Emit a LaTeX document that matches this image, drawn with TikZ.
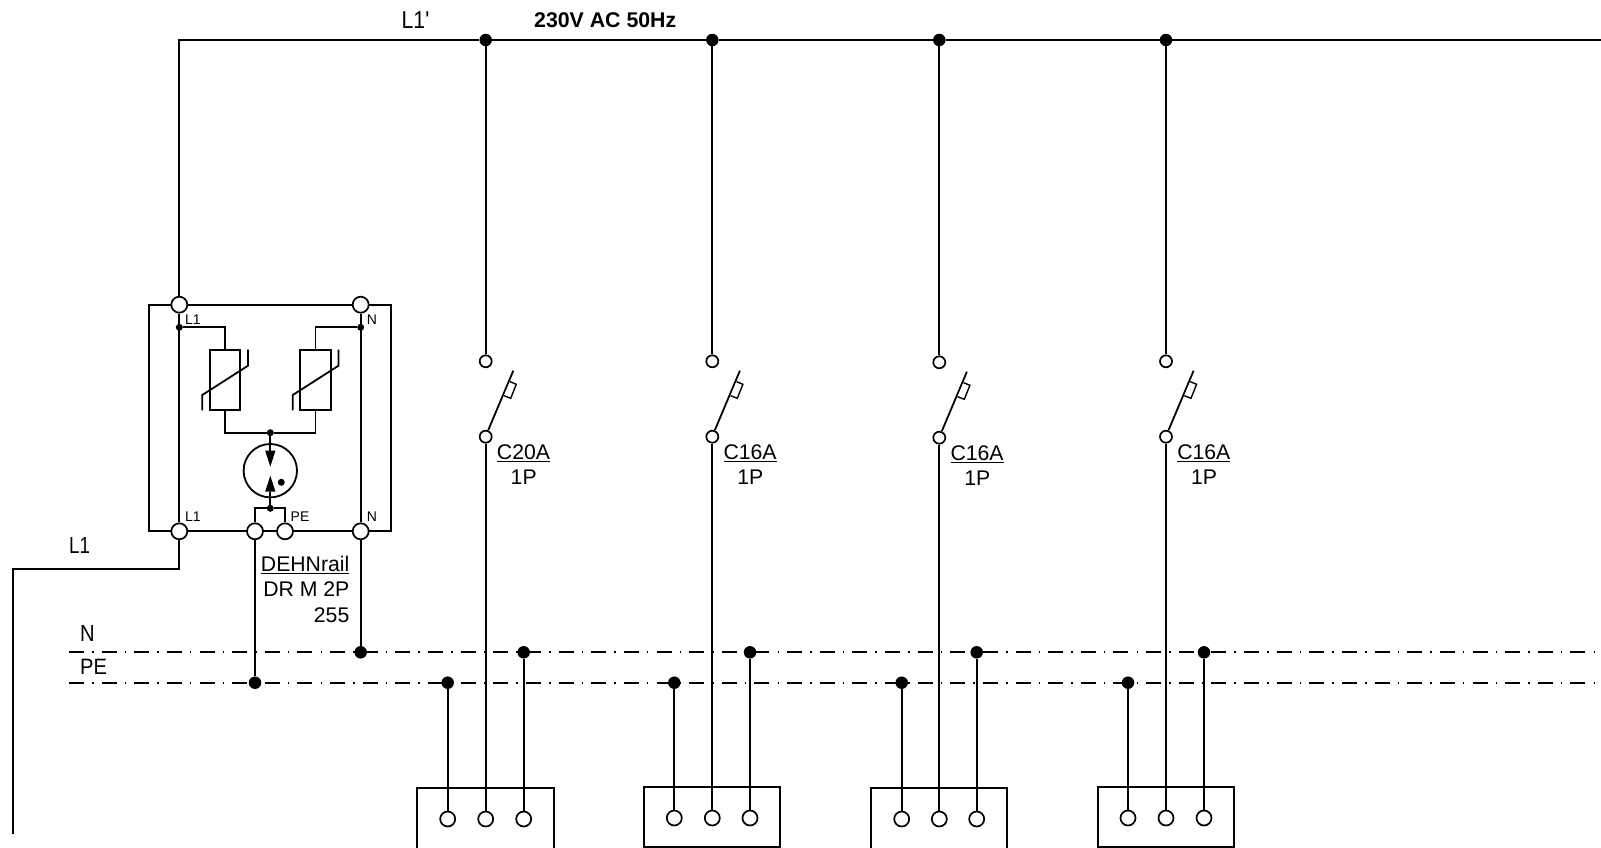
\documentclass[tikz,border=0pt]{standalone}
\usepackage{fontspec}
\usepackage{graphicx}
\setmainfont{Liberation Sans}
\newfontfamily\plainf[Ligatures=ResetAll]{Liberation Sans}
\newcommand{\bigtxt}{\fontsize{21.2}{24}\selectfont}
\newcommand{\boldtxt}{\fontsize{21.3}{24}\selectfont\bfseries}
\newcommand{\smalltxt}{\fontsize{14}{16}\selectfont}
\tikzset{
  wire/.style={line width=2pt,line cap=butt,line join=miter},
  thin wire/.style={line width=1.5pt},
  term/.style={circle,draw,line width=1.7pt,fill=white,inner sep=0pt,minimum size=16pt},
  smallterm/.style={circle,draw,line width=1.7pt,fill=white,inner sep=0pt,minimum size=12pt},
  sockterm/.style={circle,draw,line width=1.7pt,fill=white,inner sep=0pt,minimum size=15pt},
  jdot/.style={circle,fill=black,inner sep=0pt,minimum size=12.5pt},
  smalldot/.style={circle,fill=black,inner sep=0pt,minimum size=7pt},
  varistor/.style={rectangle,draw,line width=1.8pt,fill=white,inner sep=0pt,minimum width=30.4pt,minimum height=60.6pt},
  rail/.style={line width=2pt,dash pattern=on 15pt off 8.07pt on 1.5pt off 8.07pt},
  big/.style={font=\bigtxt,inner sep=0pt},
  tiny/.style={font=\smalltxt,inner sep=0pt},
}
\begin{document}
\begin{tikzpicture}[x=1pt,y=-1pt]
\useasboundingbox (0,0) rectangle (1601,848);
% rails
\coordinate (nA) at (69,652.3); \coordinate (nB) at (1596,652.3);
\coordinate (pA) at (69,682.7); \coordinate (pB) at (1596,682.7);
\draw[rail] (nA) -- (nB);
\draw[rail] (pA) -- (pB);
% device housing
\node[draw,line width=1.9pt,rectangle,inner sep=0pt,minimum width=242pt,minimum height=226.6pt] (housing) at (270,418) {};
\node[term] (tTL) at (179.3,304.7) {};
\node[term] (tTN) at (360.7,304.7) {};
\node[term] (tBL) at (179.3,531.3) {};
\node[term] (tBN) at (360.7,531.3) {};
\node[term] (tBE) at (255,531.3) {};
\node[term] (tBP) at (285,531.3) {};
\draw[wire] (tTL) -- (tBL);
\draw[wire] (tTN) -- (tBN);
\node[smalldot] (dL) at (179.3,327.3) {};
\node[smalldot] (dN) at (360.7,327.3) {};
% varistors
\node[varistor] (v1) at (225,380) {};
\node[varistor] (v2) at (315.5,380) {};
\node[smalldot] (dJ) at (270.3,432.7) {};
\draw[wire,line width=1.8pt] (dL) -| (v1.north);
\draw[wire,line width=1.8pt] (dN) -| (v2.north);
\draw[wire,line width=1.8pt] (v1.south) |- (dJ);
\draw[wire,line width=1.8pt] (v2.south) |- (dJ);
\foreach \v in {v1,v2}{
  \draw[line width=1.8pt] ([xshift=-22.7pt]\v.center) ++(0,30.3) -- ++(0,-15.3) -- ++(45.7,-29.3) -- ++(0,-16);
}
% gas arrester
\node[circle,draw,line width=1.8pt,inner sep=0pt,minimum size=53.4pt] (gas) at (270.3,470.7) {};
\node[smalldot] (dG) at (270.3,508.3) {};
\coordinate (aD) at (270.3,451); \coordinate (aU) at (270.3,491.7);
\draw[wire,line width=1.8pt] (dJ) -- (aD);
\draw[wire,line width=1.8pt] (dG) -- (aU);
\fill (aD) ++(-5.2,-0.5) -- ++(10.4,0) -- (270.3,466.7) -- cycle;
\fill (aU) ++(-5.2,0) -- ++(10.4,0) -- (270.3,475.7) -- cycle;
\node[circle,fill=black,inner sep=0pt,minimum size=7pt] (gasdot) at (281.3,482.3) {};
\draw[wire,line width=1.8pt] (tBE) |- (dG);
\draw[wire,line width=1.8pt] (tBP) |- (dG);
% housing labels
\node[tiny,anchor=base west] (lbA) at (185,324.3) {L1};
\node[tiny,anchor=base west] (lbB) at (366.7,324.3) {N};
\node[tiny,anchor=base west] (lbC) at (185,521) {L1};
\node[tiny,anchor=base west] (lbD) at (290.5,521) {PE};
\node[tiny,anchor=base west] (lbE) at (366.7,521) {N};
% device rail connections
\node[jdot] (dPE0) at (255,682.7) {};
\node[jdot] (dN0) at (360.7,652.3) {};
\draw[wire] (tBE) -- (dPE0);
\draw[wire] (tBN) -- (dN0);
% feed
\coordinate (kink) at (13.3,569);
\coordinate (feed) at (13.3,833.5);
\draw[wire] (tBL) |- (kink) -- (feed);
% columns
\foreach \k/\x/\dy/\dg/\px/\nx/\closed in {1/485.7/0/1/447.7/523.7/0,2/712.3/0/0/674.3/750/1,3/939.3/1/1/901.7/976.7/0,4/1166/0/0/1128/1204/1}{
  \node[jdot] (bus\k) at (\x,40) {};
  \node[smallterm] (sa\k) at (\x,361.3+\dy) {};
  \node[smallterm] (sb\k) at (\x,436.7+\dy) {};
  \draw[wire] (bus\k) -- (sa\k);
  % breaker blade
  \draw[wire,line width=1.8pt] (\x+2.6,430+\dy) -- (\x+27.6,370.7+\dy);
  \draw[line width=1.4pt,fill=white] (\x+24.3,381.7+\dy) -- (\x+30.6,384.3+\dy) -- (\x+25,398.3+\dy) -- (\x+18.3,395.7+\dy);
  \node[big,anchor=base] (ca\k) at (\x+37.8,459.6+\dy) {\underline{\ifnum\k=1 C20A\else C16A\fi}};
  \node[big,anchor=base] (cb\k) at (\x+38,484.3+\dy) {1P};
  % socket
  \pgfmathsetmacro{\sl}{\x-68.4}
  \pgfmathsetmacro{\sr}{\x+68}
  \ifnum\closed=1
    \draw[wire] (\sl,787) rectangle (\sr,847.3);
  \else
    \draw[wire] (\sl,848) -- (\sl,788) -- (\sr,788) -- (\sr,848);
  \fi
  \node[sockterm] (sp\k) at (\px,818+\dg) {};
  \node[sockterm] (sm\k) at (\x,818+\dg) {};
  \node[sockterm] (sn\k) at (\nx,818+\dg) {};
  \node[jdot] (dP\k) at (\px,682.7) {};
  \node[jdot] (dN\k) at (\nx,652.3) {};
  \draw[wire] (sb\k) -- (sm\k);
  \draw[wire] (dP\k) -- (sp\k);
  \draw[wire] (dN\k) -- (sn\k);
}
% bus
\coordinate (busend) at (1601,40);
\draw[wire] (tTL) |- (bus1) -- (bus2) -- (bus3) -- (bus4) -- (busend);
% labels
\node[big,anchor=base west] (lL1p) at (401.5,28.6) {\scalebox{1}[1.15]{\plainf L1'}};
\node[big,anchor=base west,font=\boldtxt] (lV) at (534,27.2) {230V AC 50Hz};
\node[big,anchor=base west] (lL1) at (69,553.5) {\scalebox{.88}[1.1]{L1}};
\node[big,anchor=base west] (lN) at (80,641) {\scalebox{.95}[1.1]{N}};
\node[big,anchor=base west] (lPE) at (80,674.5) {\scalebox{.95}[1.05]{PE}};
\node[big,anchor=base east] (d1) at (349.5,571.4) {\underline{DEHNrail}};
\node[big,anchor=base east] (d2) at (349.5,596.4) {DR M 2P};
\node[big,anchor=base east] (d3) at (349.5,622.4) {255};
\end{tikzpicture}
\end{document}
